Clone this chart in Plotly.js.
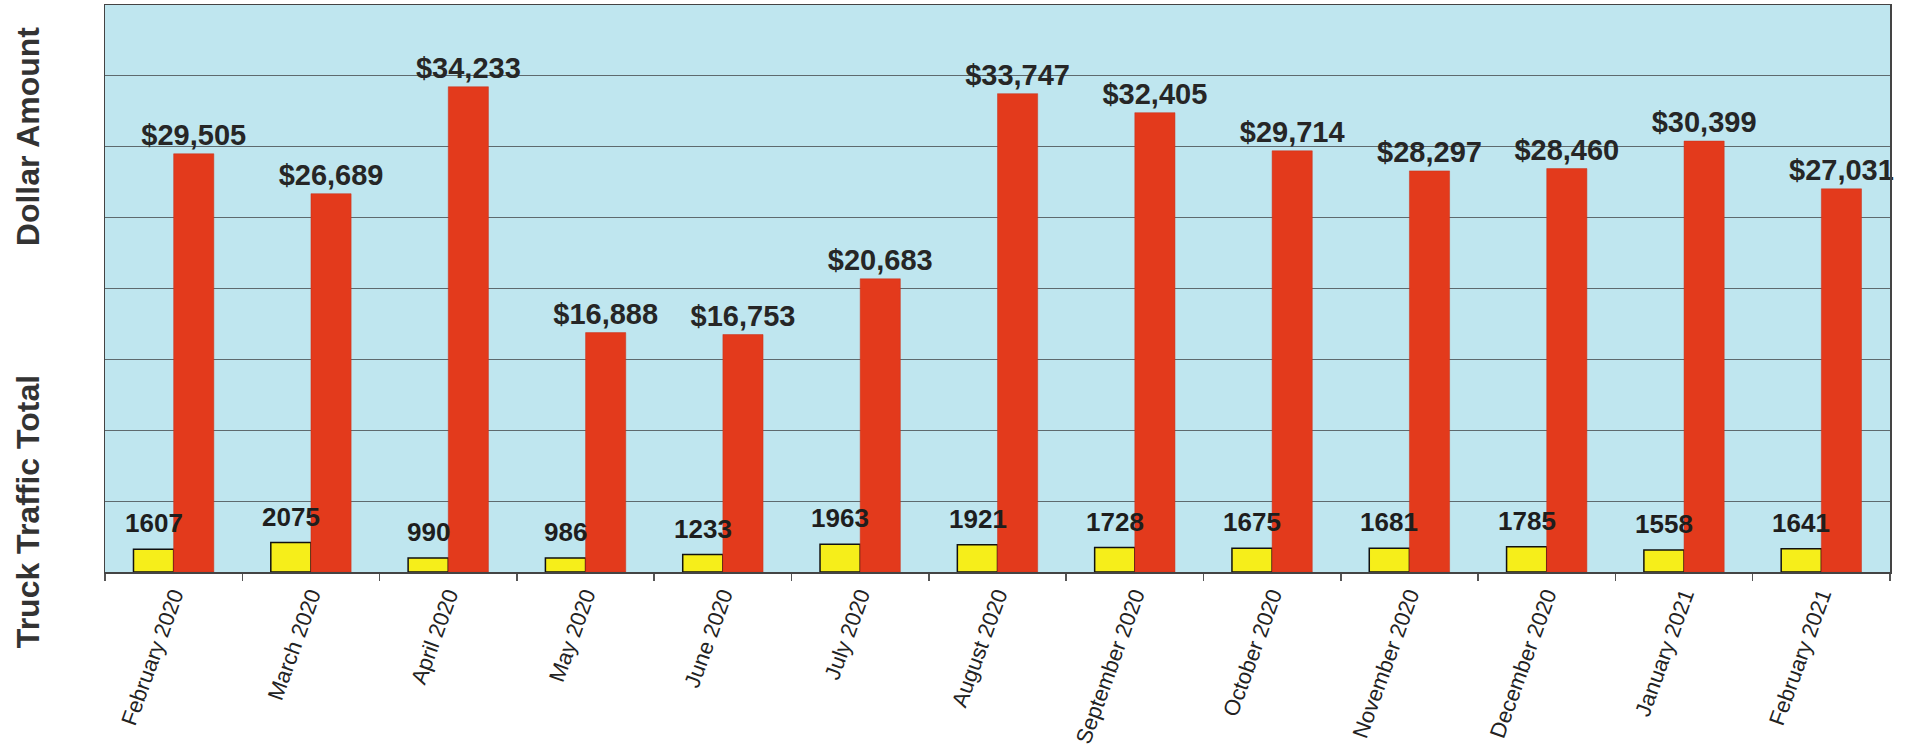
<!DOCTYPE html>
<html>
<head>
<meta charset="utf-8">
<script src="https://cdn.plot.ly/plotly-3.0.1.min.js"></script>
<style>html,body{margin:0;padding:0;background:#fff;}#chart{width:1908px;height:749px;}</style>
</head>
<body>
<div id="chart"></div>
<script>
const months = ["February 2020","March 2020","April 2020","May 2020","June 2020","July 2020","August 2020","September 2020","October 2020","November 2020","December 2020","January 2021","February 2021"];
const truckTotals = [1607,2075,990,986,1233,1963,1921,1728,1675,1681,1785,1558,1641];
const dollarAmounts = [29505,26689,34233,16888,16753,20683,33747,32405,29714,28297,28460,30399,27031];
const dollarLabels = ["$29,505","$26,689","$34,233","$16,888","$16,753","$20,683","$33,747","$32,405","$29,714","$28,297","$28,460","$30,399","$27,031"];

const labelFont = {family: "Liberation Sans, Arial, sans-serif", size: 29, color: "#262626", weight: "bold"};

const traces = [
  {
    type: "bar", name: "Truck Traffic Total", x: months, y: truckTotals,
    marker: {color: "#f6ee1a", line: {color: "#111", width: 1.5}},
    hoverinfo: "skip"
  },
  {
    type: "bar", name: "Dollar Amount", x: months, y: dollarAmounts,
    marker: {color: "#e33a1c", line: {color: "#c8301a", width: 0.5}},
    text: dollarLabels, textposition: "outside", constraintext: "none",
    textfont: labelFont, cliponaxis: false, hoverinfo: "skip"
  }
];

const annotations = months.map((m, i) => ({
  x: m, y: truckTotals[i], xref: "x", yref: "y",
  text: String(truckTotals[i]), showarrow: false,
  xanchor: "center", yanchor: "bottom", xshift: -20, yshift: 9,
  font: {family: "Liberation Sans, Arial, sans-serif", size: 26, color: "#1e1e1e", weight: "bold"}
}));

annotations.push({
  xref: "paper", yref: "paper", x: -0.043, y: 0.769, xanchor: "center", yanchor: "middle",
  text: "Dollar Amount", textangle: -90, showarrow: false,
  font: {family: "Liberation Sans, Arial, sans-serif", size: 32, color: "#333", weight: "bold"}
});
annotations.push({
  xref: "paper", yref: "paper", x: -0.043, y: 0.106, xanchor: "center", yanchor: "middle",
  text: "Truck Traffic Total", textangle: -90, showarrow: false,
  font: {family: "Liberation Sans, Arial, sans-serif", size: 32, color: "#333", weight: "bold"}
});

const layout = {
  width: 1908, height: 749,
  margin: {l: 105, r: 18, t: 5, b: 177},
  paper_bgcolor: "#ffffff", plot_bgcolor: "#bfe6ef",
  barmode: "group", bargap: 0.415, bargroupgap: 0,
  showlegend: false,
  xaxis: {
    type: "category", tickson: "boundaries", ticks: "outside", ticklen: 7, tickwidth: 1.5, tickcolor: "#555",
    showline: true, mirror: true, linecolor: "#444", linewidth: 1.5,
    tickangle: -70, showgrid: false,
    tickfont: {family: "Liberation Sans, Arial, sans-serif", size: 22, color: "#222"}
  },
  yaxis: {
    range: [0, 40000], dtick: 5000, tick0: 0, showticklabels: false, ticks: "",
    showgrid: true, gridcolor: "#5e6a6e", gridwidth: 1, zeroline: false,
    showline: true, mirror: true, linecolor: "#444", linewidth: 1.5
  },
  annotations: annotations
};

Plotly.newPlot("chart", traces, layout, {displayModeBar: false, staticPlot: true});
</script>
</body>
</html>
